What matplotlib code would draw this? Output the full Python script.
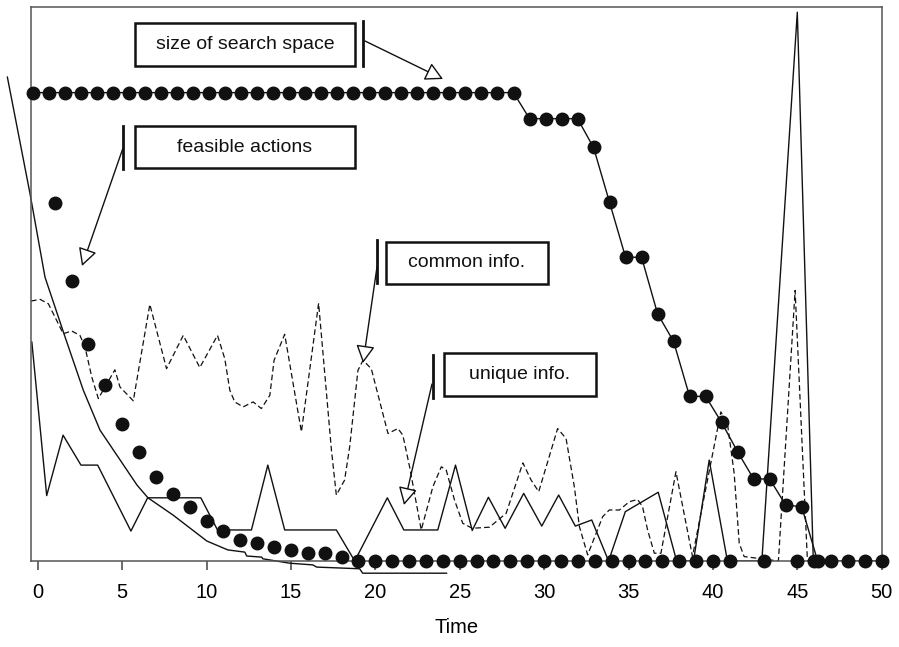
import matplotlib.pyplot as plt
from matplotlib.patches import Rectangle, FancyArrowPatch
import numpy as np

plt.rcParams['font.family'] = ['Liberation Sans', 'DejaVu Sans']

# size of search space, one value per step (its own step spacing)
search_step = list(range(50))
search_space = [84.5, 84.5, 84.5, 84.5, 84.5, 84.5, 84.5, 84.5, 84.5, 84.5,
                84.5, 84.5, 84.5, 84.5, 84.5, 84.5, 84.5, 84.5, 84.5, 84.5,
                84.5, 84.5, 84.5, 84.5, 84.5, 84.5, 84.5, 84.5, 84.5, 84.5,
                84.5, 79.8, 79.8, 79.8, 79.8, 74.6, 64.7, 54.8, 54.8, 44.6,
                39.6, 29.7, 29.7, 25.0, 19.7, 14.8, 14.8, 10.1, 9.8, 0.0]

# feasible actions (dots only)
feasible_t = list(range(1, 51))
feasible = [64.5, 50.6, 39.1, 31.7, 24.7, 19.6, 15.1, 12.1, 9.7, 7.2,
            5.4, 3.8, 3.2, 2.5, 2.0, 1.5, 1.5, 0.8, 0.0, 0.0,
            0.0, 0.0, 0.0, 0.0, 0.0, 0.0, 0.0, 0.0, 0.0, 0.0,
            0.0, 0.0, 0.0, 0.0, 0.0, 0.0, 0.0, 0.0, 0.0, 0.0,
            0.0, np.nan, 0.0, np.nan, 0.0, 0.0, 0.0, 0.0, 0.0, 0.0]

# smooth decaying curve (unlabelled)
curve_t = [-1.80, -0.46, 0.43, 1.62, 2.70, 3.69, 5.88, 6.53, 8.01, 10.02,
           11.26, 12.27, 12.38, 13.27, 13.33, 14.93, 16.29, 16.53, 19.07,
           19.25, 24.22]
curve_v = [87.3, 66.3, 51.2, 40.4, 30.8, 23.6, 13.7, 11.4, 8.3, 3.6,
           2.0, 1.6, 0.9, 0.7, 0.4, -0.4, -0.7, -1.1, -1.4, -2.2, -2.2]

# unique info. (solid)
unique_t = [-0.35, 0.53, 1.50, 2.56, 3.55, 5.52, 6.51, 9.66, 10.65, 12.66,
            13.63, 14.63, 17.69, 18.78, 20.71, 21.69, 23.70, 24.75, 25.74,
            26.70, 27.69, 28.79, 29.86, 30.86, 31.85, 32.82, 33.82, 34.81,
            36.76, 37.85, 38.85, 39.78, 40.86, 42.90, 45.00, 45.95, 50.0]
unique_v = [39.5, 11.8, 22.7, 17.3, 17.3, 5.4, 11.4, 11.4, 5.6, 5.6,
            17.3, 5.6, 5.6, 0.0, 11.4, 5.6, 5.6, 17.3, 5.5,
            11.5, 5.9, 12.2, 6.3, 11.9, 6.3, 7.4, 0.0, 8.9,
            12.4, 0.0, 0.0, 18.2, 0.0, 0.0, 99.0, 0.0, 0.0]

# common info. (dashed)
common_t = [-0.40, 0.14, 0.63, 1.12, 1.51, 2.01, 2.50, 2.80, 3.20, 3.59,
            4.57, 4.87, 5.66, 6.64, 7.63, 8.62, 9.60, 10.65, 11.08, 11.38,
            11.67, 12.17, 12.76, 13.25, 13.75, 14.00, 14.63, 15.62, 16.64,
            17.40, 17.69, 18.18, 18.48, 18.97, 19.27, 19.76, 20.75, 21.34,
            21.63, 22.03, 22.72, 23.41, 23.91, 24.20, 24.69, 25.18, 25.74,
            26.76, 27.75, 28.74, 29.23, 29.68, 30.80, 31.30, 31.79, 32.09,
            32.58, 33.47, 33.86, 34.46, 35.05, 35.54, 35.83, 36.13, 36.53,
            36.92, 37.81, 38.79, 40.47, 40.86, 41.26, 41.56, 41.85, 43.88,
            44.87, 45.60, 50.0]
common_v = [46.9, 47.2, 46.4, 43.4, 41.0, 41.5, 40.7, 38.6, 33.2, 29.3,
            34.5, 31.4, 28.9, 46.3, 34.7, 40.7, 34.9, 40.7, 36.5, 30.8,
            28.7, 27.8, 28.7, 27.5, 29.9, 36.2, 40.9, 23.3, 46.5,
            20.0, 11.9, 14.6, 20.6, 34.4, 36.2, 34.7, 23.0, 23.9,
            22.7, 17.0, 5.6, 13.4, 17.0, 16.4, 11.0, 6.8, 5.9,
            6.1, 8.6, 17.7, 14.6, 12.5, 23.9, 22.1, 13.4, 6.2,
            1.1, 8.0, 9.2, 9.2, 10.7, 11.1, 9.8, 5.6, 1.4,
            1.4, 16.1, 0.8, 26.9, 24.8, 15.8, 3.2, 0.8, 0.0,
            48.8, 0.0, 0.0]

W, H = 899, 647
fig = plt.figure(figsize=(W / 100, H / 100), dpi=100)
ax = fig.add_axes([31 / W, 1 - 561 / H, (881.7 - 31) / W, (561 - 6.7) / H])
ink = '#111111'

ax.plot(curve_t, curve_v, color=ink, lw=1.0, clip_on=False, zorder=2)
ax.plot(unique_t, unique_v, color=ink, lw=1.0, zorder=2)
ax.plot(common_t, common_v, color=ink, lw=0.9, dashes=(4.5, 2.5), zorder=2)
ax.plot(feasible_t, feasible, 'o', color=ink, ms=9, zorder=3, clip_on=False)

ax.set_xlim(-0.4, 50)
ax.set_ylim(0, 100)
ax.set_xticks(range(0, 51, 5))
ax.set_yticks([])
ax.tick_params(axis='x', direction='out', length=6.5, width=1.1,
               color='#444444', labelsize=14.5, pad=9)
for s in ax.spines.values():
    s.set_color('#555555')
    s.set_linewidth(1.1)
ax.set_xlabel('Time', fontsize=14.5, labelpad=12)

# the search space series uses its own step spacing
ax2 = ax.twiny()
ax2.set_xlim(-0.14, 53.0)
ax2.set_ylim(0, 100)
ax2.axis('off')
ax2.plot(search_step, search_space, '-o', color=ink, lw=1.0, ms=9,
         clip_on=False, zorder=3)


def fp(x, y):
    return (x / W, 1 - y / H)


labels = [
    ("size of search space", (135, 23, 355, 66), (363, 21, 66), (365, 41), (443, 79)),
    ("feasible actions", (135, 126, 355, 168), (123, 126, 169), (123, 148), (82, 266)),
    ("common info.", (386, 242, 548, 284), (377, 240, 283), (377, 267), (363, 363)),
    ("unique info.", (444, 353, 596, 396), (433, 355, 398), (432, 384), (404, 505)),
]
for text, box, bar, start, tip in labels:
    x0, y0, x1, y1 = box
    fig.patches.append(Rectangle(fp(x0, y1), (x1 - x0) / W, (y1 - y0) / H,
                                 transform=fig.transFigure, fill=False,
                                 ec=ink, lw=1.8))
    fig.text((x0 + x1) / 2 / W, 1 - (y0 + y1) / 2 / H, text, ha='center',
             va='center', fontsize=14, color=ink)
    bx, by0, by1 = bar
    fig.add_artist(plt.Line2D([bx / W, bx / W], [1 - by0 / H, 1 - by1 / H],
                              transform=fig.transFigure, color=ink, lw=2.0))
    fig.add_artist(FancyArrowPatch(fp(*start), fp(*tip),
                                   transform=fig.transFigure,
                                   arrowstyle='-|>,head_length=0.6,head_width=0.32',
                                   mutation_scale=18, fc='white', ec=ink,
                                   lw=1.0, shrinkA=0, shrinkB=0))

fig.savefig('out.png', dpi=100)
